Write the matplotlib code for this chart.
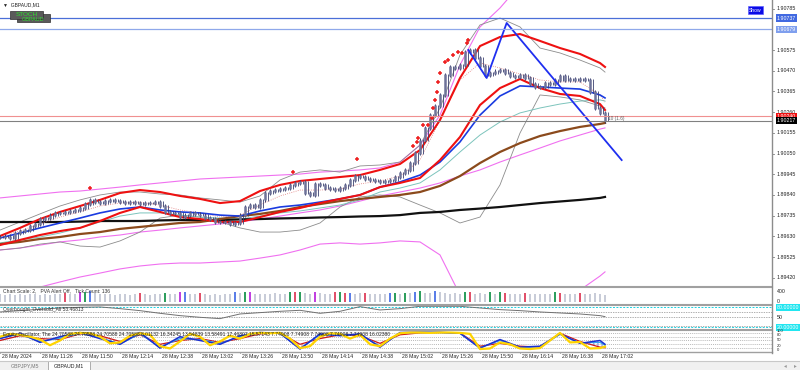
import numpy as np
import matplotlib
matplotlib.use('Agg')
import matplotlib.pyplot as plt
from matplotlib.lines import Line2D
from matplotlib.patches import Rectangle

plt.rcParams['font.family'] = ['Liberation Sans', 'DejaVu Sans']

W, H = 800, 370
MIN_PX = 5 / 3          # M1 con chart scale 2 -> 1 vela = 1.67 px
X_MAX = 772 / MIN_PX    # minutos visibles hasta la escala de precios

# ===== datos =====
time_labels = ['28 May 2024', '28 May 11:26', '28 May 11:50', '28 May 12:14', '28 May 12:38',
               '28 May 13:02', '28 May 13:26', '28 May 13:50', '28 May 14:14', '28 May 14:38',
               '28 May 15:02', '28 May 15:26', '28 May 15:50', '28 May 16:14', '28 May 16:38',
               '28 May 17:02']
label_min = [0, 24, 48, 72, 96, 120, 144, 168, 192, 216, 240, 264, 288, 312, 336, 360]

# cierres cada 3 minutos desde 11:02
close_3m = [1.89626, 1.89631, 1.89621, 1.89647, 1.89657, 1.89662, 1.89683, 1.89693, 1.89718, 1.89723,
            1.89738, 1.89749, 1.89749, 1.89754, 1.89759, 1.89764, 1.89774, 1.89794, 1.89815, 1.89804,
            1.89799, 1.89809, 1.89815, 1.89809, 1.89804, 1.89799, 1.89804, 1.89799, 1.89794, 1.89799,
            1.89799, 1.89804, 1.89784, 1.89754, 1.89749, 1.89749, 1.89728, 1.89738, 1.89749, 1.89743,
            1.89738, 1.89723, 1.89718, 1.89703, 1.89703, 1.89703, 1.89693, 1.89698, 1.89738, 1.89779,
            1.89789, 1.89779, 1.89815, 1.89850, 1.89860, 1.89865, 1.89870, 1.89875, 1.89891, 1.89901,
            1.89906, 1.89850, 1.89840, 1.89896, 1.89891, 1.89875, 1.89870, 1.89865, 1.89875, 1.89891,
            1.89916, 1.89936, 1.89931, 1.89921, 1.89916, 1.89911, 1.89906, 1.89911, 1.89916, 1.89931,
            1.89951, 1.89967, 1.90002, 1.90053, 1.90118, 1.90180, 1.90245, 1.90291, 1.90347, 1.90448,
            1.90489, 1.90484, 1.90499, 1.90565, 1.90575, 1.90534, 1.90494, 1.90448, 1.90458, 1.90468,
            1.90474, 1.90458, 1.90443, 1.90438, 1.90448, 1.90433, 1.90403, 1.90387, 1.90387, 1.90408,
            1.90403, 1.90423, 1.90443, 1.90423, 1.90428, 1.90423, 1.90428, 1.90423, 1.90362, 1.90281,
            1.90256, 1.90217]

grid_min = list(range(0, 361, 12)) + [363]
env_up = [1.89825, 1.89835, 1.89845, 1.89855, 1.89860, 1.89870, 1.89880, 1.89891, 1.89901, 1.89911,
          1.89921, 1.89926, 1.89931, 1.89936, 1.89941, 1.89946, 1.89956, 1.89961, 1.89967, 1.89977,
          1.90007, 1.90093, 1.90245, 1.90499, 1.90692, 1.90788, 1.90905, 1.90981, 1.91031, 1.91057,
          1.91082, 1.91082]
env_mid = [1.89561, 1.89571, 1.89586, 1.89602, 1.89612, 1.89627, 1.89637, 1.89652, 1.89662, 1.89673,
           1.89683, 1.89693, 1.89703, 1.89718, 1.89733, 1.89749, 1.89764, 1.89784, 1.89809, 1.89835,
           1.89855, 1.89875, 1.89901, 1.89936, 1.89967, 1.90007, 1.90043, 1.90078, 1.90114, 1.90144,
           1.90174, 1.90180]
env_low = [1.89343, 1.89358, 1.89373, 1.89399, 1.89424, 1.89444, 1.89465, 1.89480, 1.89490, 1.89495,
           1.89495, 1.89500, 1.89505, 1.89520, 1.89536, 1.89561, 1.89591, 1.89597, 1.89591, 1.89597,
           1.89607, 1.89602, 1.89536, 1.89333, 1.89206, 1.89155, 1.89155, 1.89206, 1.89282, 1.89358,
           1.89429, 1.89450]
bb_up = [1.89662, 1.89703, 1.89744, 1.89784, 1.89815, 1.89840, 1.89855, 1.89855, 1.89845, 1.89840,
         1.89825, 1.89815, 1.89804, 1.89835, 1.89916, 1.89956, 1.89967, 1.89956, 1.89987, 1.89992,
         1.90007, 1.90093, 1.90281, 1.90550, 1.90702, 1.90737, 1.90692, 1.90585, 1.90560, 1.90524,
         1.90484, 1.90463]
bb_low = [1.89561, 1.89571, 1.89591, 1.89602, 1.89581, 1.89576, 1.89607, 1.89652, 1.89723, 1.89738,
          1.89728, 1.89703, 1.89673, 1.89652, 1.89652, 1.89662, 1.89698, 1.89779, 1.89830, 1.89840,
          1.89830, 1.89789, 1.89749, 1.89698, 1.89728, 1.89891, 1.90154, 1.90347, 1.90337, 1.90322,
          1.90291, 1.90281]
red_up = [1.89632, 1.89673, 1.89718, 1.89754, 1.89784, 1.89815, 1.89850, 1.89865, 1.89855, 1.89835,
          1.89820, 1.89799, 1.89809, 1.89860, 1.89891, 1.89911, 1.89921, 1.89931, 1.89941, 1.89967,
          1.89997, 1.90068, 1.90220, 1.90433, 1.90595, 1.90641, 1.90656, 1.90621, 1.90585, 1.90555,
          1.90509, 1.90489]
ma_blue = [1.89622, 1.89647, 1.89673, 1.89698, 1.89723, 1.89749, 1.89769, 1.89779, 1.89764, 1.89754,
           1.89749, 1.89738, 1.89733, 1.89759, 1.89779, 1.89789, 1.89804, 1.89820, 1.89840, 1.89880,
           1.89906, 1.89941, 1.90007, 1.90109, 1.90245, 1.90342, 1.90393, 1.90388, 1.90382, 1.90377,
           1.90347, 1.90332]
red_low = [1.89586, 1.89612, 1.89637, 1.89657, 1.89673, 1.89708, 1.89749, 1.89779, 1.89754, 1.89728,
           1.89718, 1.89703, 1.89703, 1.89728, 1.89754, 1.89774, 1.89799, 1.89820, 1.89840, 1.89880,
           1.89901, 1.89926, 1.90017, 1.90134, 1.90296, 1.90382, 1.90428, 1.90382, 1.90352, 1.90342,
           1.90301, 1.90271]
ma_teal = [1.89597, 1.89612, 1.89627, 1.89647, 1.89673, 1.89703, 1.89733, 1.89749, 1.89749, 1.89738,
           1.89728, 1.89723, 1.89718, 1.89733, 1.89749, 1.89759, 1.89774, 1.89789, 1.89815, 1.89855,
           1.89875, 1.89901, 1.89967, 1.90058, 1.90144, 1.90210, 1.90256, 1.90281, 1.90301, 1.90316,
           1.90322, 1.90316]
ma_brown = [1.89591, 1.89602, 1.89617, 1.89627, 1.89642, 1.89652, 1.89668, 1.89678, 1.89688, 1.89698,
            1.89703, 1.89718, 1.89733, 1.89744, 1.89759, 1.89779, 1.89794, 1.89809, 1.89820, 1.89830,
            1.89840, 1.89855, 1.89886, 1.89936, 1.90002, 1.90058, 1.90103, 1.90139, 1.90164, 1.90185,
            1.90200, 1.90205]
ma_black = [1.89703, 1.89703, 1.89703, 1.89703, 1.89705, 1.89708, 1.89708, 1.89708, 1.89711, 1.89713,
            1.89713, 1.89713, 1.89716, 1.89718, 1.89721, 1.89723, 1.89726, 1.89728, 1.89731, 1.89733,
            1.89738, 1.89749, 1.89754, 1.89764, 1.89771, 1.89779, 1.89789, 1.89799, 1.89807, 1.89815,
            1.89825, 1.89830]
ma_dotted = [1.89632, 1.89657, 1.89693, 1.89728, 1.89754, 1.89784, 1.89799, 1.89804, 1.89789, 1.89764,
             1.89749, 1.89728, 1.89738, 1.89789, 1.89835, 1.89865, 1.89865, 1.89870, 1.89896, 1.89911,
             1.89936, 1.90017, 1.90220, 1.90423, 1.90509, 1.90484, 1.90453, 1.90423, 1.90413, 1.90413,
             1.90347, 1.90311]

star_min = [54, 176, 214, 248, 250, 251, 254, 257, 259, 260, 261, 262, 263, 264, 267, 269, 272, 275, 277, 280, 281]
star_price = [1.89875, 1.89956, 1.90022, 1.90088, 1.90109, 1.90129, 1.90195, 1.90195, 1.90230, 1.90281,
              1.90322, 1.90362, 1.90413, 1.90458, 1.90514, 1.90524, 1.90550, 1.90565, 1.90560, 1.90610, 1.90626]

zz_min = [281, 292, 304, 373]
zz_price = [1.90575, 1.90433, 1.90712, 1.90017]

hline_blue = 1.90737
hline_lblue = 1.90679
ask_price = 1.90240
bid_price = 1.90217
price_ticks = [1.90785, 1.90575, 1.90470, 1.90365, 1.90260, 1.90155, 1.90050,
               1.89945, 1.89840, 1.89735, 1.89630, 1.89525, 1.89420]

volume = [300, 280, 320, 290, 310, 270, 300, 330, 290, 310,
          280, 300, 320, 350, 310, 300, 380, 400, 420, 360,
          330, 300, 310, 290, 320, 300, 280, 310, 360, 300,
          290, 310, 300, 370, 320, 300, 380, 400, 330, 300,
          360, 310, 290, 300, 280, 310, 320, 380, 360, 390,
          400, 330, 310, 300, 320, 340, 310, 330, 390, 380,
          400, 350, 320, 380, 340, 310, 320, 380, 400, 370,
          360, 330, 340, 370, 320, 310, 330, 320, 360, 370,
          330, 360, 340, 380, 420, 360, 340, 430, 380, 350,
          330, 340, 320, 380, 390, 330, 340, 320, 400, 330,
          380, 360, 330, 320, 310, 370, 300, 320, 310, 330,
          320, 380, 360, 300, 320, 330, 350, 310, 330, 340,
          300, 260]
vol_green = [17, 33, 49, 58, 60, 68, 79, 81, 84, 93, 98, 100, 111]
vol_red = [13, 28, 40, 59, 67, 69, 73, 94, 101, 105, 112, 116]
vol_blue = [18, 37, 47, 70, 78, 83, 87]
vol_magenta = [16, 36, 50, 63]

ob_line = [66, 70, 74, 78, 80, 81, 76, 70, 62, 55, 50, 46, 60, 64, 68, 71,
           62, 68, 82, 72, 76, 83, 83, 83, 78, 73, 70, 66, 63, 60, 55, 52]

st_min6 = list(range(0, 361, 6)) + [363]
st_yellow = [70, 85, 80, 70, 55, 25, 50, 85, 90, 88, 70, 35, 40, 75, 88, 80, 20, 8, 45, 85,
             70, 25, 45, 75, 60, 85, 90, 88, 90, 60, 10, 20, 70, 88, 85, 60, 80, 30, 20, 60,
             88, 92, 92, 90, 92, 92, 90, 85, 5, 8, 40, 30, 8, 5, 10, 50, 90, 40, 42, 8,
             10, 18]
st_blue = [60, 88, 40, 70, 92, 60, 30, 92, 10, 70, 50, 30, 75, 92, 88, 5,
           85, 75, 85, 15, 92, 94, 93, 88, 10, 55, 15, 20, 85, 35, 50, 30]
st_red = [50, 75, 60, 55, 85, 75, 45, 80, 30, 50, 60, 40, 60, 85, 90, 30,
          60, 80, 75, 35, 80, 90, 92, 90, 20, 35, 20, 15, 88, 45, 15, 12]
st_lblue = [65, 82, 45, 62, 88, 65, 32, 85, 15, 60, 55, 35, 70, 90, 88, 8,
            80, 78, 82, 20, 90, 92, 92, 88, 12, 50, 12, 18, 82, 38, 40, 25]

# ===== figura =====
fig = plt.figure(figsize=(W / 100, H / 100), dpi=100)
fig.patch.set_facecolor('white')


def px_axes(x0, y0, x1, y1):
    a = fig.add_axes([x0 / W, 1 - y1 / H, (x1 - x0) / W, (y1 - y0) / H])
    a.set_xlim(0, X_MAX)
    a.set_xticks([])
    a.set_yticks([])
    for s in a.spines.values():
        s.set_visible(False)
    a.patch.set_alpha(0)
    return a


def sep(x0, y0, x1, y1, color='#a0a0a0', lw=1.5):
    fig.add_artist(Line2D([x0 / W, x1 / W], [1 - y0 / H, 1 - y1 / H], color=color, lw=lw,
                          transform=fig.transFigure))


FS = 3.8
ax = px_axes(0, 0, 772, 286)
ax.set_ylim(1.893785, 1.908285)

gm = np.array(grid_min)
ax.plot(gm, env_up, color='#f070f0', lw=0.8)
ax.plot(gm, env_mid, color='#f070f0', lw=0.8)
ax.plot(gm, env_low, color='#f070f0', lw=0.8)
ax.plot(gm, bb_up, color='#8c8c8c', lw=0.6)
ax.plot(gm, bb_low, color='#8c8c8c', lw=0.6)
ax.plot(gm, ma_teal, color='#7cc4bc', lw=0.7)
ax.plot(gm, ma_black, color='#111111', lw=1.6)
ax.plot(gm, ma_brown, color='#8b4a1c', lw=1.6)
ax.plot(gm, ma_dotted, color='#e07a7a', lw=0.6, ls=':')
ax.plot(gm, ma_blue, color='#1a3be0', lw=1.2)
ax.plot(gm, red_low, color='#ee1111', lw=1.5)
ax.plot(gm, red_up, color='#ee1111', lw=1.5)

# velas
xc = np.arange(len(close_3m)) * 3
cl = np.array(close_3m)
op = np.r_[cl[0], cl[:-1]]
hi = np.maximum(op, cl)
lo = np.minimum(op, cl)
ax.vlines(xc, lo - 0.0001, hi + 0.0001, color='#3a3f6e', lw=0.7)
ax.vlines(xc, lo - 0.00003, hi + 0.00003, color='#6e7399', lw=1.8)
ax.vlines(xc + 1.5, lo - 0.00004, hi + 0.00004, color='#3a3f6e', lw=0.6)

ax.plot(star_min, star_price, '+', color='#ee2020', ms=3.2, mew=1.1, ls='none')
ax.plot(zz_min, zz_price, color='#1f2ff0', lw=1.3, clip_on=True)

ax.axhline(hline_blue, color='#4a6fd8', lw=0.9)
ax.axhline(hline_lblue, color='#8fa8ea', lw=0.9)
ax.axhline(ask_price, color='#f09090', lw=0.8)
ax.axhline(bid_price, color='#808080', lw=0.8)
ax.text(xc[-1] + 2, bid_price + 0.00012, '10 (1.6)', fontsize=3.4, color='#606060', va='center')

# escala de precios
ty = ax.get_yaxis_transform()
for p in price_ticks:
    ax.plot([1.0, 1.003], [p, p], transform=ty, color='#808080', lw=0.6, clip_on=False)
    ax.text(1.006, p, f'{p:.5f}', transform=ty, fontsize=FS, va='center', ha='left', color='#222222')
for p, fc in [(hline_blue, '#4169e1'), (hline_lblue, '#7f9fee'), (ask_price, '#ee1111'), (bid_price, '#000000')]:
    ax.text(1.006, p, f'{p:.5f}', transform=ty, fontsize=FS, va='center', ha='left', color='white',
            bbox=dict(boxstyle='square,pad=0.2', fc=fc, ec='none'))

# etiquetas de la esquina
fig.text(3 / W, 1 - 4.5 / H, '\u25bc  GBPAUD,M1', fontsize=3.6, va='center', ha='left', color='#222222')
fig.add_artist(Rectangle((17 / W, 1 - 22 / H), 33 / W, 8 / H, transform=fig.transFigure,
                         fc='#5a5a5a', ec='#303030', lw=0.5))
fig.text(33 / W, 1 - 19.5 / H, 'GBPAUD', fontsize=4.0, color='#2ee02e', ha='center', va='center')
fig.add_artist(Rectangle((10 / W, 1 - 18.5 / H), 33 / W, 8 / H, transform=fig.transFigure,
                         fc='#5a5a5a', ec='#303030', lw=0.5))
fig.text(26.5 / W, 1 - 14.5 / H, 'STOCH', fontsize=4.6, color='#2ee02e', ha='center', va='center')
fig.add_artist(Rectangle((748 / W, 1 - 14 / H), 15 / W, 8 / H, transform=fig.transFigure,
                         fc='#0a0ae6', ec='#6060ff', lw=0.5))
fig.text(755.5 / W, 1 - 10 / H, 'Show', fontsize=3.6, color='white', ha='center', va='center')

# ----- volumen -----
axv = px_axes(0, 287.5, 772, 304.5)
axv.set_ylim(-115, 582)
vcol = ['#c8ccd8'] * len(volume)
for idx in vol_green:
    vcol[idx] = '#2e9e5e'
for idx in vol_red:
    vcol[idx] = '#e0506a'
for idx in vol_blue:
    vcol[idx] = '#5b7ee8'
for idx in vol_magenta:
    vcol[idx] = '#c040e0'
axv.bar(np.arange(len(volume)) * 3, volume, width=1.2, color=vcol, align='center')
axv.text(0.004, 0.93, 'Chart Scale: 2,   PVA Alert Off,   Tick Count: 136', transform=axv.transAxes,
         fontsize=3.6, va='top', ha='left', color='#333333')
tv = axv.get_yaxis_transform()
for v in [400, 0]:
    axv.text(1.006, v, str(v), transform=tv, fontsize=FS, va='center', ha='left', color='#222222')

# ----- overbought / oversold -----
axo = px_axes(0, 305.5, 772, 328.5)
axo.set_ylim(16.4, 85.4)
for lv in [80, 20]:
    axo.axhline(lv, color='#20d0e0', lw=0.7, ls=(0, (2, 1.5)))
for lv in [65, 50, 25]:
    axo.axhline(lv, color='#909090', lw=0.5, ls=(0, (2, 1.5)))
axo.plot(gm, ob_line, color='#707070', lw=0.7)
axo.text(0.004, 0.93, 'Overbought_Oversold_All 53.46813', transform=axo.transAxes,
         fontsize=3.6, va='top', ha='left', color='#333333')
to = axo.get_yaxis_transform()
for v in [80, 20]:
    axo.text(1.006, v, f'{v:.5f}', transform=to, fontsize=FS, va='center', ha='left', color='white',
             bbox=dict(boxstyle='square,pad=0.2', fc='#22e6f0', ec='none'))
axo.text(1.006, 50, '50', transform=to, fontsize=FS, va='center', ha='left', color='#222222')

# ----- oscilador -----
axs = px_axes(0, 330.5, 772, 351.5)
axs.set_ylim(-7.9, 102.6)
for lv in [90, 70, 50, 30, 10]:
    axs.axhline(lv, color='#a0a0a0', lw=0.5, ls=(0, (1.5, 1.5)))
sm12 = np.array(grid_min)
axs.fill_between(sm12, st_blue, st_red, where=np.array(st_red) >= np.array(st_blue),
                 facecolor='none', edgecolor='#d05060', hatch='||||', lw=0, alpha=0.6, interpolate=True)
axs.fill_between(sm12, st_blue, st_red, where=np.array(st_red) < np.array(st_blue),
                 facecolor='none', edgecolor='#6060d0', hatch='||||', lw=0, alpha=0.6, interpolate=True)
axs.plot(sm12, st_red, color='#d01818', lw=0.9)
axs.plot(sm12, st_lblue, color='#35a8f0', lw=0.9)
axs.plot(sm12, st_blue, color='#1a2fd0', lw=1.1)
axs.plot(st_min6, st_yellow, color='#ffd400', lw=1.6)
axs.text(0.004, 0.93, 'Equity Oscillator, The 24.70588 24.70588 24.70588 24.70588 8.01132 16.34245 13.54839 '
         '13.58491 17.46807 15.57143 7.74908 7.74908 7.74908 7.74908 7.74908 16.02380',
         transform=axs.transAxes, fontsize=3.6, va='top', ha='left', color='#222222')
tsx = axs.get_yaxis_transform()
for v in [100, 80, 50, 20, 0]:
    axs.text(1.006, v, str(v), transform=tsx, fontsize=3.0, va='center', ha='left', color='#222222')

# eje de tiempo
txa = axs.get_xaxis_transform()
for m, lab in zip(label_min, time_labels):
    axs.plot([m, m], [0, -0.08], transform=txa, color='#808080', lw=0.5, clip_on=False)
    axs.annotate(lab, xy=(m, 0), xycoords=txa, xytext=(1.2, -1.6), textcoords='offset points',
                 fontsize=3.7, va='top', ha='left', color='#222222')

# separadores y bordes
sep(0, 286.8, 772, 286.8)
sep(0, 305.0, 772, 305.0)
sep(0, 329.6, 772, 329.6)
sep(0, 352.0, 772, 352.0, lw=1.0)
sep(772, 0, 772, 352.5, color='#8c8c8c', lw=1.0)

# pestañas inferiores
fig.add_artist(Rectangle((0, 0), 1, 9 / H, transform=fig.transFigure, fc='#f0f0f0', ec='none'))
sep(0, 361, 800, 361, color='#c8c8c8', lw=0.8)
fig.add_artist(Rectangle((48 / W, 0), 42 / W, 9.5 / H, transform=fig.transFigure,
                         fc='white', ec='#a0a0a0', lw=0.6))
fig.text(25 / W, 4.5 / H, 'GBPJPY,M5', fontsize=3.8, color='#777777', ha='center', va='center')
fig.text(69 / W, 4.5 / H, 'GBPAUD,M1', fontsize=3.8, color='#222222', ha='center', va='center')
fig.text(785 / W, 4.5 / H, '\u25c2', fontsize=4.0, color='#999999', ha='center', va='center')
fig.text(795 / W, 4.5 / H, '\u25b8', fontsize=4.0, color='#999999', ha='center', va='center')

fig.savefig('out.png', dpi=100, facecolor='white')
